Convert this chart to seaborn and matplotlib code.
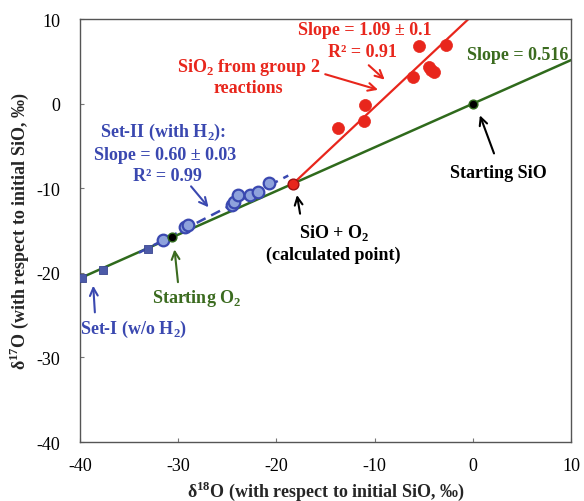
import numpy as np
import pandas as pd
import matplotlib
matplotlib.use("Agg")
import matplotlib.pyplot as plt
import seaborn as sns

# ---- data ----
sio_start_x = [0.0]
sio_start_y = [0.0]
o2_start_x = [-30.6]
o2_start_y = [-15.8]
calc_x = [-18.3]
calc_y = [-9.45]

set1_x = [-39.8, -37.7, -33.1]
set1_y = [-20.6, -19.7, -17.2]

set2_x = [-31.6, -29.3, -29.0, -24.5, -24.3, -23.9, -22.7, -21.9, -20.8]
set2_y = [-16.1, -14.6, -14.3, -12.0, -11.6, -10.8, -10.8, -10.4, -9.4]

grp2_x = [-13.7, -11.1, -11.0, -6.1, -5.5, -4.5, -4.3, -4.0, -2.7]
grp2_y = [-2.9, -2.1, -0.1, 3.1, 6.8, 4.3, 4.0, 3.8, 6.9]

green_slope = 0.516
red_slope = 1.09
set2_slope = 0.60
set2_intercept = 2.78
set2_fit_range = [-34.0, -18.8]

x_ticks = [-40, -30, -20, -10, 0, 10]
y_ticks = [-40, -30, -20, -10, 0, 10]

# ---- style ----
sns.set_theme(style="ticks")
plt.rcParams['font.family'] = ['Liberation Serif', 'DejaVu Serif']
plt.rcParams['mathtext.fontset'] = 'custom'
plt.rcParams['mathtext.rm'] = 'Liberation Serif'
plt.rcParams['mathtext.bf'] = 'Liberation Serif:bold'
plt.rcParams['axes.unicode_minus'] = False

RED = "#e8261c"
GREEN = "#2f6a1c"
GREEN_TXT = "#3b6b1f"
BLUE = "#3a48b0"
BLUE_FILL = "#8ea2dc"

fig = plt.figure(figsize=(5.84, 5.02), dpi=100)
ax = fig.add_axes([0.137, 0.1175, 0.841, 0.8425])

# green mixing line through Starting SiO
gx = np.array([-40.0, 10.0])
sns.lineplot(x=gx, y=sio_start_y[0] + green_slope * (gx - sio_start_x[0]),
             color=GREEN, lw=1.8, ax=ax, zorder=2)

# red fit line from calculated point
ry_top = 10.0
rx_end = calc_x[0] + (ry_top - calc_y[0]) / red_slope
rx = np.array([calc_x[0], rx_end])
sns.lineplot(x=rx, y=calc_y[0] + red_slope * (rx - calc_x[0]),
             color=RED, lw=1.6, ax=ax, zorder=2)

# blue dashed fit for Set-II
bx = np.array(set2_fit_range)
sns.lineplot(x=bx, y=set2_intercept + set2_slope * bx, color=BLUE, lw=1.8,
             ax=ax, zorder=2, linestyle=(0, (4, 2.5)))

# points
sns.scatterplot(x=set1_x, y=set1_y, marker="s", s=40, color="#4c5aa8",
                edgecolor="#3a468f", linewidth=0.6, ax=ax, zorder=3)
sns.scatterplot(x=set2_x, y=set2_y, marker="o", s=70, color=BLUE_FILL,
                edgecolor=BLUE, linewidth=1.6, ax=ax, zorder=3)
sns.scatterplot(x=grp2_x, y=grp2_y, marker="o", s=75, color=RED,
                edgecolor=RED, linewidth=0.5, ax=ax, zorder=3)
sns.scatterplot(x=calc_x, y=calc_y, marker="o", s=60, color=RED,
                edgecolor="#a01010", linewidth=1.0, ax=ax, zorder=4)
sns.scatterplot(x=sio_start_x + o2_start_x, y=sio_start_y + o2_start_y,
                marker="o", s=40, color="black", edgecolor=GREEN,
                linewidth=1.0, ax=ax, zorder=4)

ax.set_xlim(-40, 10)
ax.set_ylim(-40, 10)
ax.set_xticks(x_ticks)
ax.set_yticks(y_ticks)
ax.tick_params(direction="in", length=3, width=0.8, colors="#777777",
               labelsize=13, labelcolor="black")
ax.tick_params(axis="x", pad=11)
ax.tick_params(axis="y", pad=14)
for s in ax.spines.values():
    s.set_color("#555555")
    s.set_linewidth(1.0)

ax.set_xlabel(r"δ$^{\mathbf{18}}$O (with respect to initial SiO, ‰)",
              fontsize=13, fontweight="bold", labelpad=3)
ax.set_ylabel(r"δ$^{\mathbf{17}}$O (with respect to initial SiO, ‰)",
              fontsize=13, fontweight="bold", labelpad=4)

fs = 13
arrow_kw = dict(arrowstyle="->", lw=1.5, mutation_scale=14)

def d2a(px, py):
    # helper converting reference pixel to data coordinates (for annotation placement)
    return (px - 472) / 9.8, (104 - py) / 8.4

# red annotations
ax.text(*d2a(364, 30), "Slope = 1.09 ± 0.1", color=RED, fontsize=fs,
        fontweight="bold", ha="center", va="center")
ax.text(*d2a(362, 52), "R² = 0.91", color=RED, fontsize=fs,
        fontweight="bold", ha="center", va="center")
ax.annotate("", xy=d2a(386, 82), xytext=d2a(366, 64),
            arrowprops=dict(color=RED, **arrow_kw))
ax.text(*d2a(248, 67), r"SiO$_\mathbf{2}$ from group 2", color=RED, fontsize=fs,
        fontweight="bold", ha="center", va="center")
ax.text(*d2a(248, 88), "reactions", color=RED, fontsize=fs,
        fontweight="bold", ha="center", va="center")
ax.annotate("", xy=d2a(380, 91), xytext=d2a(322, 74),
            arrowprops=dict(color=RED, **arrow_kw))

# green annotations
ax.text(*d2a(517, 55), "Slope = 0.516", color=GREEN_TXT, fontsize=fs,
        fontweight="bold", ha="center", va="center")
ax.text(*d2a(196, 296), r"Starting O$_\mathbf{2}$", color=GREEN_TXT, fontsize=fs,
        fontweight="bold", ha="center", va="center")
ax.annotate("", xy=d2a(174, 246), xytext=d2a(178, 284),
            arrowprops=dict(color=GREEN_TXT, **arrow_kw))

# black annotations
ax.text(*d2a(497, 172), "Starting SiO", color="black", fontsize=fs,
        fontweight="bold", ha="center", va="center")
ax.annotate("", xy=d2a(478, 113), xytext=d2a(494, 156),
            arrowprops=dict(color="black", **arrow_kw))
ax.text(*d2a(333, 231), r"SiO + O$_\mathbf{2}$", color="black", fontsize=fs,
        fontweight="bold", ha="center", va="center")
ax.text(*d2a(333, 254), "(calculated point)", color="black", fontsize=fs,
        fontweight="bold", ha="center", va="center")
ax.annotate("", xy=d2a(296, 192), xytext=d2a(300, 216),
            arrowprops=dict(color="black", **arrow_kw))

# blue annotations
ax.text(*d2a(163, 132), r"Set-II (with H$_\mathbf{2}$):", color=BLUE, fontsize=fs,
        fontweight="bold", ha="center", va="center")
ax.text(*d2a(165, 154), "Slope = 0.60 ± 0.03", color=BLUE, fontsize=fs,
        fontweight="bold", ha="center", va="center")
ax.text(*d2a(167, 175), "R² = 0.99", color=BLUE, fontsize=fs,
        fontweight="bold", ha="center", va="center")
ax.annotate("", xy=d2a(210, 209), xytext=d2a(189, 184),
            arrowprops=dict(color=BLUE, **arrow_kw))
ax.text(*d2a(133, 327), r"Set-I (w/o H$_\mathbf{2}$)", color=BLUE, fontsize=fs,
        fontweight="bold", ha="center", va="center")
ax.annotate("", xy=d2a(93, 282), xytext=d2a(95, 314),
            arrowprops=dict(color=BLUE, **arrow_kw))

fig.savefig("out.png", dpi=100)
